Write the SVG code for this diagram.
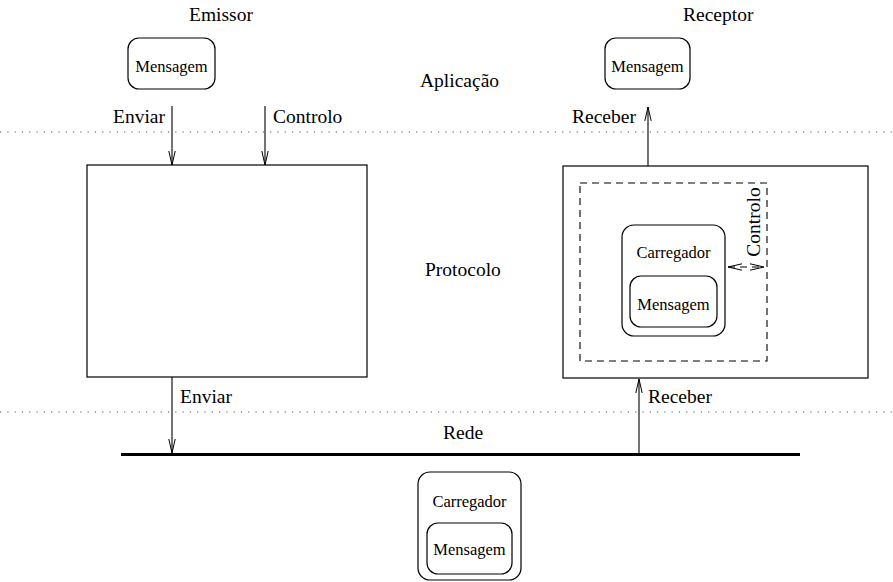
<svg xmlns="http://www.w3.org/2000/svg" width="893" height="582" viewBox="0 0 893 582">
<defs>
<style>
.t{font-family:"Liberation Serif","Times New Roman",serif;font-size:19.5px;fill:#000}
.s{font-family:"Liberation Serif","Times New Roman",serif;font-size:16.5px;fill:#000;text-anchor:middle}
.box{fill:none;stroke:#000;stroke-width:1.2}
.ln{fill:none;stroke:#000;stroke-width:1.1}
.dot{fill:none;stroke:#555;stroke-width:1.2;stroke-dasharray:1.2 6.1}
.dash{fill:none;stroke:#000;stroke-width:1.1;stroke-dasharray:7 5}
</style>
<marker id="arr" markerUnits="userSpaceOnUse" markerWidth="16" markerHeight="10" refX="15" refY="5" orient="auto-start-reverse">
<path d="M1,1.8 L15,5 L1,8.2" fill="none" stroke="#000" stroke-width="1"/>
</marker>
</defs>
<g id="layers">
<line class="dot" x1="0" y1="132" x2="893" y2="132"/>
<line class="dot" x1="0" y1="412" x2="893" y2="412"/>
<text class="t" x="420" y="87">Aplicação</text>
<text class="t" x="425" y="276">Protocolo</text>
<text class="t" x="443" y="439">Rede</text>
<text class="t" x="189" y="21">Emissor</text>
<text class="t" x="683" y="21">Receptor</text>
</g>
<g id="msg-emissor">
<rect class="box" x="128" y="38" width="87" height="51" rx="11"/>
<text class="s" x="171.5" y="72">Mensagem</text>
</g>
<g id="msg-receptor">
<rect class="box" x="605" y="38" width="85" height="51" rx="11"/>
<text class="s" x="647.5" y="72">Mensagem</text>
</g>
<g id="protocol-left">
<rect class="box" x="87" y="165" width="280" height="212"/>
</g>
<g id="protocol-right">
<rect class="box" x="563" y="166" width="305" height="212"/>
<rect class="dash" x="580" y="183" width="187" height="178"/>
<text class="t" transform="translate(760,222) rotate(-90)" text-anchor="middle">Controlo</text>
</g>
<g id="carregador-right">
<rect class="box" x="622" y="225" width="103" height="111" rx="12"/>
<text class="s" x="673.5" y="258">Carregador</text>
<rect class="box" x="630" y="276" width="87" height="51" rx="11"/>
<text class="s" x="673.5" y="310">Mensagem</text>
</g>
<g id="carregador-bottom">
<rect class="box" x="418" y="472" width="103" height="108" rx="12"/>
<text class="s" x="469.5" y="507">Carregador</text>
<rect class="box" x="427" y="523" width="85" height="51" rx="11"/>
<text class="s" x="469.5" y="555">Mensagem</text>
</g>
<g id="rede">
<line x1="121" y1="454.5" x2="800" y2="454.5" stroke="#000" stroke-width="3.2"/>
</g>
<g id="connectors">
<line class="ln" x1="172" y1="106" x2="172" y2="165" marker-end="url(#arr)"/>
<text class="t" x="113" y="123">Enviar</text>
<line class="ln" x1="265" y1="106" x2="265" y2="165" marker-end="url(#arr)"/>
<text class="t" x="273" y="123">Controlo</text>
<line class="ln" x1="648" y1="166" x2="648" y2="107" marker-end="url(#arr)"/>
<text class="t" x="572" y="123">Receber</text>
<line class="ln" x1="172" y1="377" x2="172" y2="453" marker-end="url(#arr)"/>
<text class="t" x="180" y="403">Enviar</text>
<line class="ln" x1="639" y1="453" x2="639" y2="379" marker-end="url(#arr)"/>
<text class="t" x="648" y="403">Receber</text>
<line class="dash" x1="728" y1="267" x2="764" y2="267" stroke-dasharray="4 3" marker-start="url(#arr)" marker-end="url(#arr)"/>
</g>
</svg>
